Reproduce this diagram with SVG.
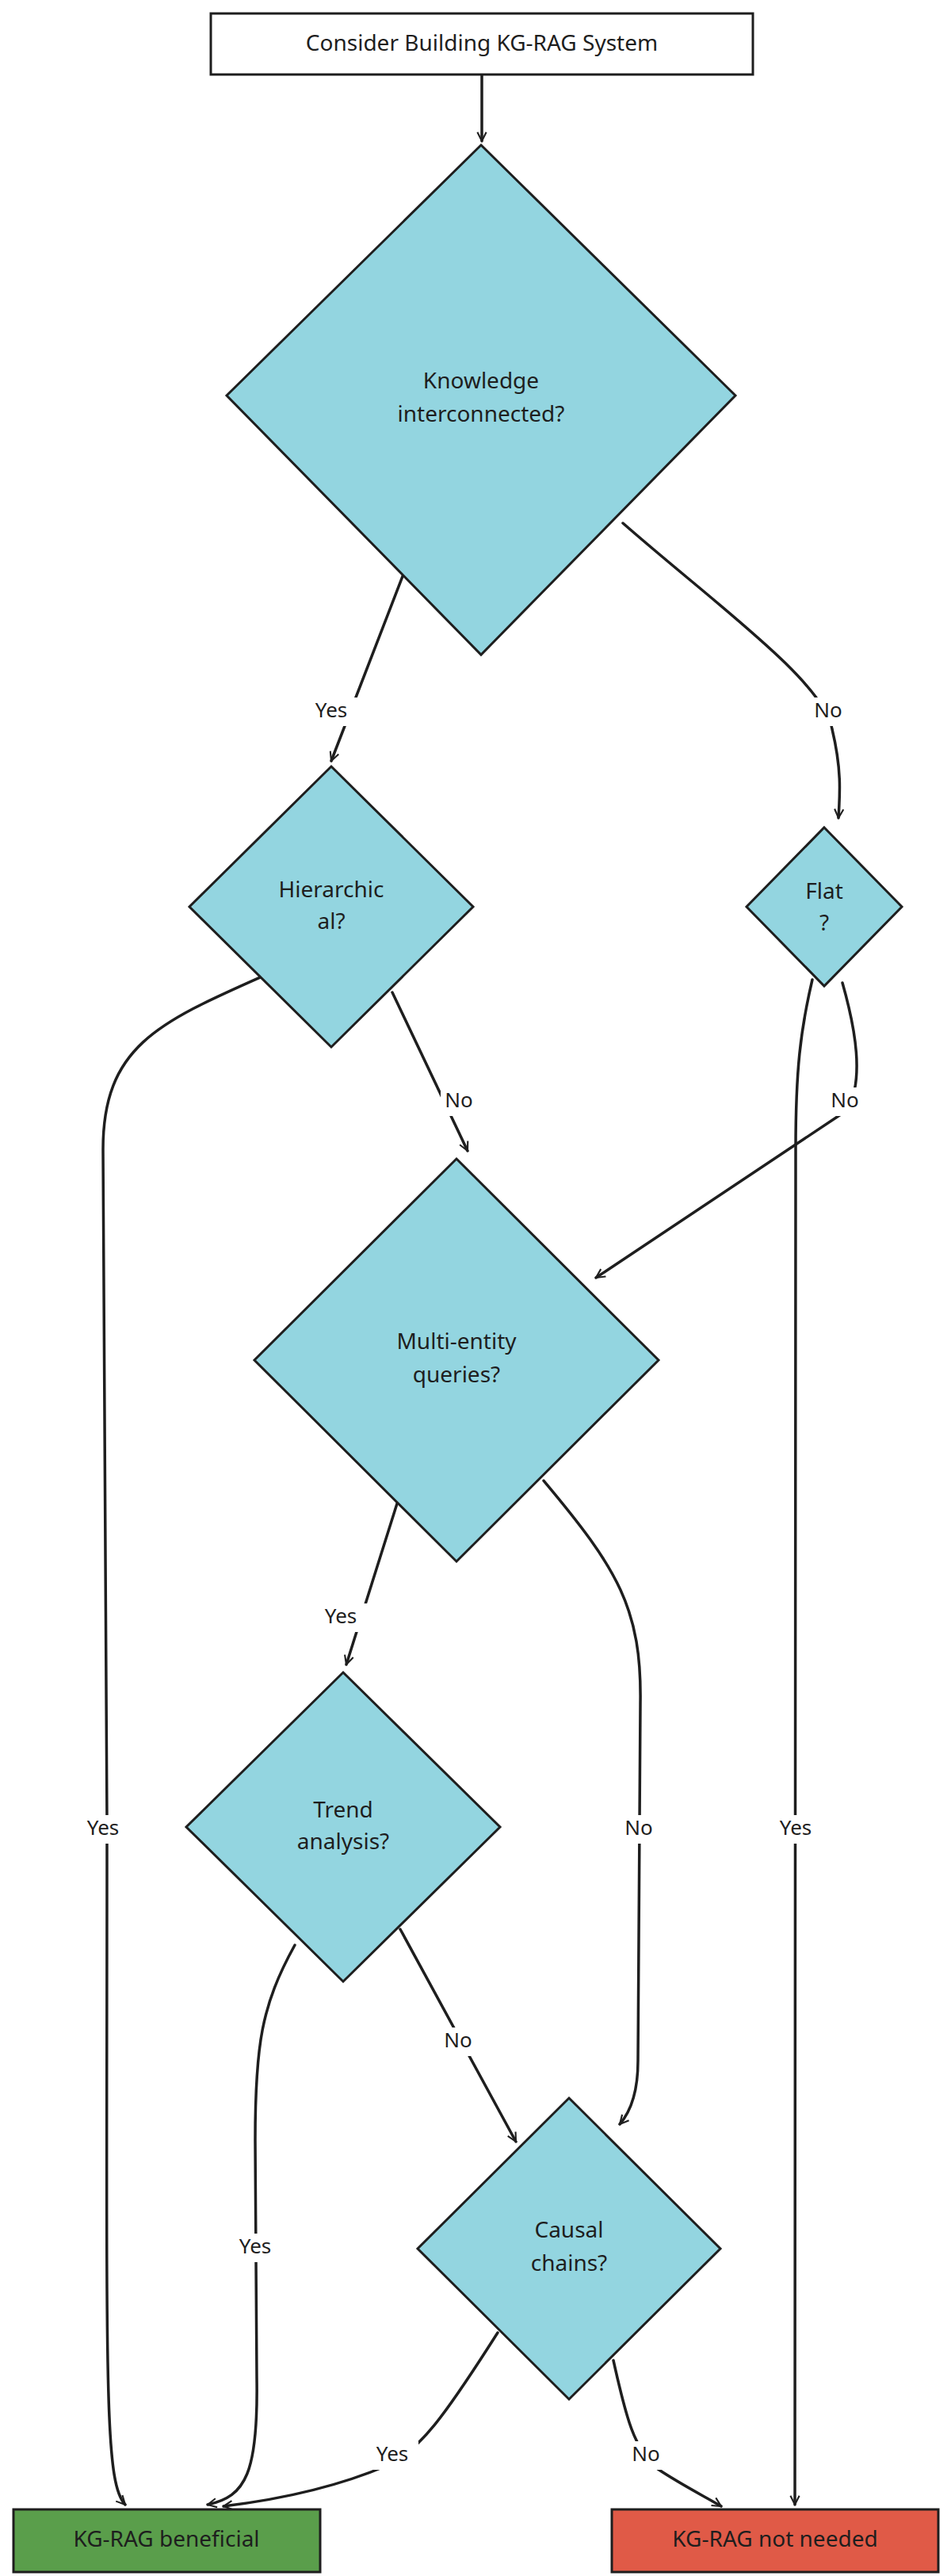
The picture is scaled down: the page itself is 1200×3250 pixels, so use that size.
<svg xmlns="http://www.w3.org/2000/svg" width="1200" height="3250" viewBox="0 0 1200 3250">
<style>
text{font-family:"Comic Sans MS","Noto Sans","DejaVu Sans",sans-serif;fill:#1e1e1e;text-anchor:middle;dominant-baseline:middle}
.n{font-size:28px}.l{font-size:26px}
.d{fill:#93d5e0;stroke:#1e1e1e;stroke-width:3}
.e{fill:none;stroke:#1e1e1e;stroke-width:3.5;stroke-linecap:round}
.bg{fill:#fff}
</style>
<defs><marker id="a" viewBox="0 0 20 20" refX="18" refY="10" markerWidth="14" markerHeight="14" markerUnits="userSpaceOnUse" orient="auto"><path d="M2 2 L18 10 L2 18" fill="none" stroke="#1e1e1e" stroke-width="3"/></marker></defs>
<rect width="1200" height="3250" fill="#fff"/>
<g id="connectors">
<path class="e" d="M608 94 L608 178" marker-end="url(#a)"/>
<path class="e" d="M510 722 L418 960" marker-end="url(#a)"/>
<path class="e" d="M786 660 C900 760 1040 860 1050 920 C1062 970 1060 1000 1058 1032" marker-end="url(#a)"/>
<path class="e" d="M333 1231 C200 1290 130 1320 130 1450 L135 2300 C135 3000 130 3130 158 3160" marker-end="url(#a)"/>
<path class="e" d="M495 1252 L590 1452" marker-end="url(#a)"/>
<path class="e" d="M1063 1240 C1080 1300 1090 1360 1070 1400 L752 1612" marker-end="url(#a)"/>
<path class="e" d="M1025 1236 C1010 1300 1004 1350 1004 1450 L1003 3160" marker-end="url(#a)"/>
<path class="e" d="M501 1897 L437 2100" marker-end="url(#a)"/>
<path class="e" d="M686 1868 C780 1980 810 2030 808 2150 L805 2600 C805 2640 795 2665 782 2680" marker-end="url(#a)"/>
<path class="e" d="M372 2454 C330 2530 322 2580 322 2700 L324 3000 C326 3120 310 3150 262 3160" marker-end="url(#a)"/>
<path class="e" d="M505 2434 L651 2702" marker-end="url(#a)"/>
<path class="e" d="M628 2943 C560 3050 530 3090 490 3110 C420 3140 340 3155 282 3162" marker-end="url(#a)"/>
<path class="e" d="M774 2978 C790 3050 800 3090 830 3115 C860 3135 890 3150 910 3162" marker-end="url(#a)"/>
<g class="l">
<rect class="bg" x="385" y="880" width="66" height="36"/><text x="418" y="898">Yes</text>
<rect class="bg" x="1022" y="880" width="46" height="36"/><text x="1045" y="898">No</text>
<rect class="bg" x="97" y="2290" width="66" height="36"/><text x="130" y="2308">Yes</text>
<rect class="bg" x="556" y="1372" width="46" height="36"/><text x="579" y="1390">No</text>
<rect class="bg" x="1043" y="1372" width="46" height="36"/><text x="1066" y="1390">No</text>
<rect class="bg" x="971" y="2290" width="66" height="36"/><text x="1004" y="2308">Yes</text>
<rect class="bg" x="397" y="2023" width="66" height="36"/><text x="430" y="2041">Yes</text>
<rect class="bg" x="783" y="2290" width="46" height="36"/><text x="806" y="2308">No</text>
<rect class="bg" x="289" y="2818" width="66" height="36"/><text x="322" y="2836">Yes</text>
<rect class="bg" x="555" y="2558" width="46" height="36"/><text x="578" y="2576">No</text>
<rect class="bg" x="462" y="3080" width="66" height="36"/><text x="495" y="3098">Yes</text>
<rect class="bg" x="792" y="3080" width="46" height="36"/><text x="815" y="3098">No</text>
</g>
</g>
<g id="start"><rect x="266" y="17" width="684" height="77" fill="#fff" stroke="#1e1e1e" stroke-width="3"/><text class="n" x="608" y="56">Consider Building KG-RAG System</text></g>
<g id="d1"><path class="d" d="M607 183 L928 499 L607 826 L286 499 Z"/><text class="n" x="607" y="482">Knowledge</text><text class="n" x="607" y="524">interconnected?</text></g>
<g id="hier"><path class="d" d="M418 967 L597 1144 L418 1321 L239 1144 Z"/><text class="n" x="418" y="1124">Hierarchic</text><text class="n" x="418" y="1164">al?</text></g>
<g id="flat"><path class="d" d="M1040 1044 L1138 1144 L1040 1244 L942 1144 Z"/><text class="n" x="1040" y="1126">Flat</text><text class="n" x="1040" y="1166">?</text></g>
<g id="multi"><path class="d" d="M576 1462 L831 1716 L576 1970 L321 1716 Z"/><text class="n" x="576" y="1694">Multi-entity</text><text class="n" x="576" y="1736">queries?</text></g>
<g id="trend"><path class="d" d="M433 2110 L631 2305 L433 2500 L235 2305 Z"/><text class="n" x="433" y="2285">Trend</text><text class="n" x="433" y="2325">analysis?</text></g>
<g id="causal"><path class="d" d="M718 2647 L909 2837 L718 3027 L527 2837 Z"/><text class="n" x="718" y="2815">Causal</text><text class="n" x="718" y="2857">chains?</text></g>
<g id="ben"><rect x="17" y="3166" width="387" height="79" fill="#5a9e4b" stroke="#1e1e1e" stroke-width="3"/><text class="n" x="210" y="3205">KG-RAG beneficial</text></g>
<g id="notn"><rect x="772" y="3166" width="412" height="79" fill="#e05a47" stroke="#1e1e1e" stroke-width="3"/><text class="n" x="978" y="3205">KG-RAG not needed</text></g>
</svg>
